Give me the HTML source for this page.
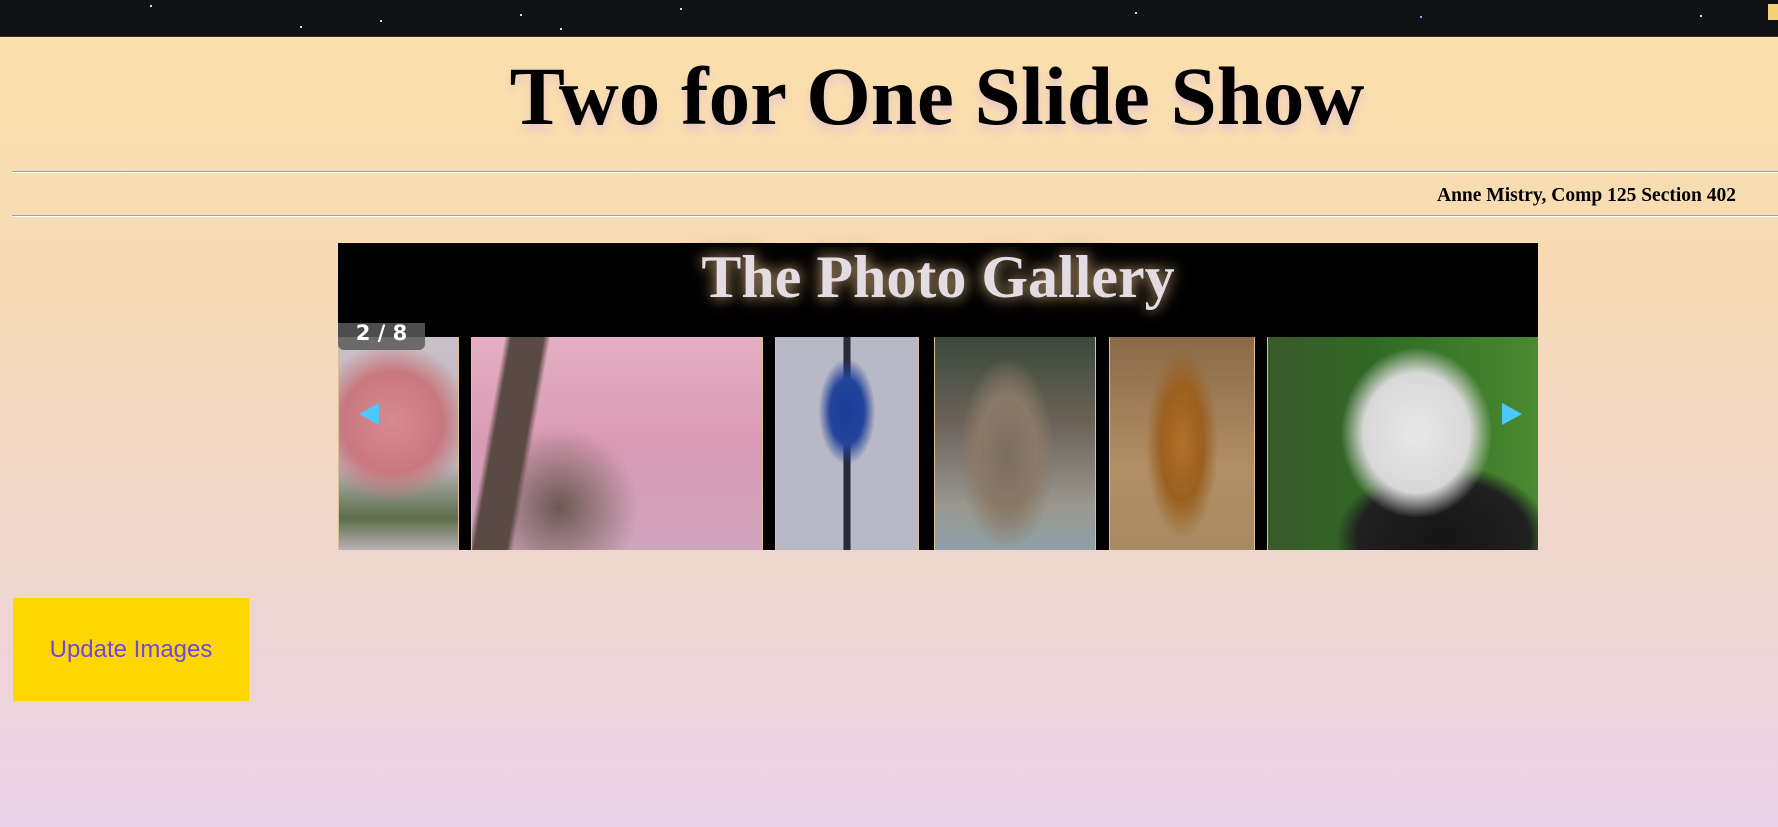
<!DOCTYPE html>
<html><head><meta charset="utf-8"><style>
html,body{margin:0;padding:0;width:1778px;height:827px;overflow:hidden}
body{background:linear-gradient(#fbe0ab 36px,#f7dbb4 250px,#efd6cd 560px,#e8d2e8 827px);position:relative;font-family:"Liberation Serif",serif}
.abs{position:absolute}
#topbar{left:0;top:0;width:1778px;height:36px;background:#111216;border-bottom:1px solid #333}
.star{position:absolute;width:2px;height:2px;background:#cdd}
h1{position:absolute;left:96px;top:46px;width:1682px;margin:0;text-align:center;font-size:83px;font-weight:bold;color:#000;text-shadow:0 6px 8px #e8c6cc;line-height:100px;font-family:"Liberation Serif",serif}
.hr{position:absolute;left:12px;width:1766px;height:1px;background:#a0a0a8;border-bottom:1px solid #fff}
#author{right:42px;top:185px;font-size:19.5px;font-weight:bold}
#gallery{left:338px;top:243px;width:1200px;height:307px;background:#000}
#gtitle{left:0;top:0;width:100%;text-align:center;font-size:60px;font-weight:bold;color:#e3dde3;text-shadow:0 0 12px #a08660,0 0 20px #6b5a40;line-height:68px}
.ph{position:absolute;top:94px;height:213px;border-left:1px solid #d8bf94;border-right:1px solid #d8bf94}
#counter{left:0;top:80px;width:87px;height:27px;background:rgba(90,90,90,.85);border-radius:0 0 6px 6px;color:#fff;font-family:"DejaVu Sans",sans-serif;font-weight:bold;font-size:21px;text-align:center;line-height:20px}
#btn{left:13px;top:598px;width:236px;height:103px;background:#ffd700;color:#6d48e0;font-family:"Liberation Sans",sans-serif;font-size:24px;text-align:center;line-height:103px}
</style></head><body>
<div id="topbar" class="abs">
<div class="star" style="left:150px;top:5px"></div><div class="star" style="left:380px;top:20px"></div><div class="star" style="left:520px;top:14px"></div><div class="star" style="left:680px;top:8px"></div><div class="star" style="left:1135px;top:12px"></div><div class="star" style="left:1420px;top:16px;background:#8af"></div><div class="star" style="left:1700px;top:15px"></div><div class="star" style="left:560px;top:28px"></div><div class="star" style="left:300px;top:26px"></div>
<div style="position:absolute;left:1768px;top:4px;width:10px;height:16px;background:#f4d27a"></div>
</div>
<h1>Two for One Slide Show</h1>
<div class="hr" style="top:171px"></div>
<div id="author" class="abs">Anne Mistry, Comp 125 Section 402</div>
<div class="hr" style="top:215px"></div>
<div id="gallery" class="abs">
<div id="gtitle" class="abs">The Photo Gallery</div>
<div class="ph" style="left:0;width:119px;background:radial-gradient(circle at 45% 40%,#d88a90 0,#c97880 35%,transparent 55%),linear-gradient(#c8c0c6,#bdb6bc 60%,#5c6e4a 85%,#b9b0b6)"></div>
<div class="ph" style="left:133px;width:290px;background:linear-gradient(100deg,transparent 0 10%,#5a4a44 12% 22%,transparent 24%),radial-gradient(circle at 30% 80%,#6a5a52 0,transparent 30%),linear-gradient(#e5aec2,#d99ab4 50%,#cfa4bc)"></div>
<div class="ph" style="left:437px;width:142px;background:radial-gradient(ellipse 20% 25% at 50% 35%,#1a3e9a 0,#22449a 60%,transparent 100%),linear-gradient(90deg,transparent 47%,#2a2a3a 48% 52%,transparent 53%),#b9b8c6"></div>
<div class="ph" style="left:596px;width:160px;background:radial-gradient(ellipse 30% 45% at 45% 55%,#7a6e60 0,#8a7a68 60%,transparent 100%),linear-gradient(#3a4a3a,#6b6258 40%,#9a9890 80%,#8ea0a8)"></div>
<div class="ph" style="left:771px;width:144px;background:radial-gradient(ellipse 25% 45% at 50% 50%,#b07028 0,#9a6020 60%,transparent 100%),linear-gradient(#8a6a48,#b08e64 60%,#a88a62)"></div>
<div class="ph" style="left:929px;width:270px;border-right:none;background:radial-gradient(ellipse 28% 40% at 55% 45%,#e8e8e8 0,#d8d8d8 70%,transparent 100%),radial-gradient(ellipse 40% 35% at 65% 95%,#151515 0,#202020 80%,transparent 100%),linear-gradient(90deg,#3a5a2a,#2f6a24 40%,#4a8a30)"></div>
<div id="counter" class="abs">2 / 8</div>
<div class="abs" style="left:21px;top:160px;width:0;height:0;border-top:11px solid transparent;border-bottom:11px solid transparent;border-right:20px solid #4cc8ff"></div>
<div class="abs" style="left:1164px;top:160px;width:0;height:0;border-top:11px solid transparent;border-bottom:11px solid transparent;border-left:20px solid #4cc8ff"></div>
</div>
<div id="btn" class="abs">Update Images</div>
</body></html>
